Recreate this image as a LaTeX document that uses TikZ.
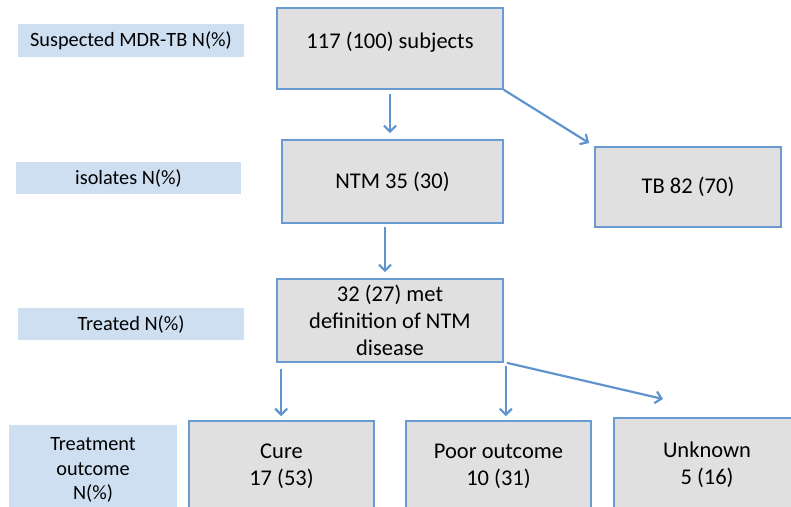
\documentclass[tikz,border=0pt]{standalone}
\usepackage{fontspec}
\setmainfont{Carlito}
\usetikzlibrary{arrows.meta,positioning}
\definecolor{boxline}{HTML}{6A9AD2}
\definecolor{boxfill}{HTML}{E0E0E0}
\definecolor{labfill}{HTML}{CEDFF2}
\definecolor{arrline}{HTML}{5F94CF}
\tikzset{
  stagebox/.style={draw=boxline, line width=1.6pt, fill=boxfill, align=center,
    inner sep=0pt, font=\fontsize{22.5}{27}\selectfont},
  labbox/.style={fill=labfill, align=center, inner sep=0pt,
    font=\fontsize{20.3}{24.5}\selectfont},
  arr/.style={-{Straight Barb[length=6pt,width=12pt]}, line width=2.2pt, draw=arrline}
}
\begin{document}
\begin{tikzpicture}[x=1pt,y=-1pt]
        \useasboundingbox (0,0) rectangle (791,506);
        % row labels
        \node[labbox, minimum width=226pt, minimum height=33pt] (labsusp) at (131,40.5) {Suspected MDR-TB N(\%)};
        \node[labbox, minimum width=225pt, minimum height=32pt] (labiso) at (128.5,178) {isolates N(\%)};
        \node[labbox, minimum width=226pt, minimum height=32pt] (labtreat) at (131,324) {Treated N(\%)};
        \node[labbox, minimum width=168pt, minimum height=90pt] (labout) at (93,470) {Treatment\\outcome\\N(\%)};
        % flow boxes
        \node[stagebox, minimum width=226pt, minimum height=81pt, text depth=16pt] (subj) at (390,48.5) {117 (100) subjects};
        \node[stagebox, minimum width=221pt, minimum height=83pt] (ntm) at (392.5,181.5) {NTM 35 (30)};
        \node[stagebox, minimum width=186pt, minimum height=80pt] (tb) at (688,187) {TB 82 (70)};
        \node[stagebox, minimum width=226pt, minimum height=83pt] (treated) at (390,320.5) {32 (27) met\\definition of NTM\\disease};
        \node[stagebox, minimum width=185pt, minimum height=91pt] (cure) at (281.5,466.5) {Cure\\17 (53)};
        \node[stagebox, minimum width=185pt, minimum height=91pt] (poor) at (498.5,466.5) {Poor outcome\\10 (31)};
        \node[stagebox, minimum width=186pt, minimum height=94pt] (unknown) at (707,465) {Unknown\\5 (16)};
        \coordinate (unkend) at (663,399);
        % connectors
        \draw[arr, shorten <=4pt, shorten >=6pt] (subj.south) -- (subj.south |- ntm.north);
        \draw[arr, shorten >=6pt] (subj.south east) -- (tb.north west);
        \draw[arr, shorten <=3pt, shorten >=6pt] ([xshift=-7.5pt]ntm.south) -- ([xshift=-7.5pt]ntm.south |- treated.north);
        \draw[arr, shorten <=6pt, shorten >=4pt] ([xshift=5pt]treated.south west) -- ([xshift=5pt]treated.south west |- cure.north);
        \draw[arr, shorten <=3pt, shorten >=4pt] ([xshift=2pt]treated.south east) -- ([xshift=2pt]treated.south east |- poor.north);
        \draw[arr] ([xshift=3pt]treated.south east) -- (unkend);
      \end{tikzpicture}
\end{document}
